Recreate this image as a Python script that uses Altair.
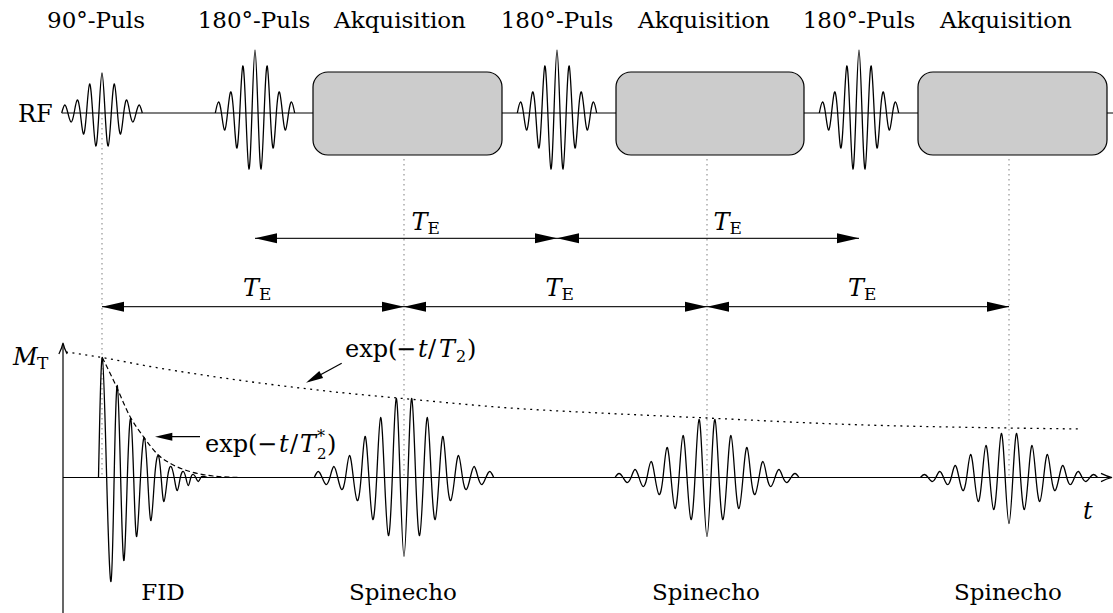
import altair as alt
import pandas as pd

W, H = 1113, 613
FONT = "DejaVu Serif"

# vertical bands (rows from the top of the drawing)
RF_ROW = 113
SIG_ROW = 477.5
TE_UPPER_ROW = 238.3
TE_LOWER_ROW = 306.7

# sequence timing (horizontal positions)
t_90 = 102
t_180 = [255, 557, 859]
t_echo = [404, 707, 1009]

# RF pulse lobes, left to right (positive = up)
rf90_amps = [8, -9, 13, -21, 29, -33, 40, -33, 29, -21, 13, -9, 8]
rf90_spacing = 6.2
rf180_amps = [11, -17, 21, -35, 47, -56, 63, -56, 47, -35, 21, -17, 11]
rf180_spacing = 6.1

# acquisition windows
acq_start = [313, 616, 918]
acq_end = [502, 804, 1107]
acq_top, acq_bottom = 72, 155

# free induction decay: lobe positions and heights
fid_t = [102.3, 111, 117.3, 124, 130.7, 136.7, 144.3, 151, 158.3, 164, 171,
         177.3, 183.3, 188.3, 193.3, 198.3, 203.3]
fid_amp = [120, -104, 92, -83, 59, -59, 40, -43, 22, -24, 11, -13, 6, -8, 3, -4, 1]
fid_start, fid_end = 98.5, 207

# spin echoes: lobe heights left to right
echo_amps = [
    [6, -7, 11, -12, 22, -23, 41, -42, 60, -58, 79, -79, 79, -58, 60, -42, 41, -23, 22, -12, 11, -7, 6],
    [4, -5, 8, -9, 16, -17, 30, -31, 42, -42, 58, -59, 58, -42, 42, -31, 30, -17, 16, -9, 8, -5, 4],
    [3, -4, 6, -7, 12, -13, 23, -24, 32, -32, 44, -46, 44, -32, 32, -24, 23, -13, 12, -7, 6, -4, 3],
]
echo_spacing = [7.8, 8.0, 7.7]

# decay envelopes
t2star_t = [102.3, 115, 130, 143.3, 158.3, 173.3, 190, 213, 240]
t2star_amp = [120, 94, 61, 41, 22.5, 12.5, 6, 1.5, 0]
t2_t = [66, 102, 150, 220, 340, 403, 517, 600, 707, 850, 1009, 1082]
t2_amp = [125.5, 120, 111, 100, 85, 79, 69, 64.5, 59.5, 53, 49.5, 48.5]

top_labels = ["90°-Puls", "180°-Puls", "Akquisition", "180°-Puls", "Akquisition", "180°-Puls", "Akquisition"]
top_label_x = [96, 254, 400, 557, 704, 859, 1006]
bottom_labels = ["FID", "Spinecho", "Spinecho", "Spinecho"]
bottom_label_x = [163, 403, 706, 1008]


def centred(center, spacing, n):
    return [center + (i - (n - 1) / 2) * spacing for i in range(n)]


def wave_rows(name, xs, amps, base_row, start=None, end=None):
    first = start if start is not None else xs[0] - (xs[1] - xs[0]) / 2
    last = end if end is not None else xs[-1] + (xs[-1] - xs[-2]) / 2
    pts = [(first, 0.0)]
    for i, (x, a) in enumerate(zip(xs, amps)):
        if i:
            pts.append(((xs[i - 1] + x) / 2, 0.0))
        pts.append((x, a))
    pts.append((last, 0.0))
    return [{"series": name, "order": k, "x": x, "y": base_row - a}
            for k, (x, a) in enumerate(pts)]


# ---- waveforms ----
waves = []
waves += wave_rows("rf90", centred(t_90, rf90_spacing, len(rf90_amps)), rf90_amps, RF_ROW)
for i, c in enumerate(t_180):
    waves += wave_rows(f"rf180_{i}", centred(c, rf180_spacing, len(rf180_amps)), rf180_amps, RF_ROW)
waves += wave_rows("fid", fid_t, fid_amp, SIG_ROW, fid_start, fid_end)
for i, c in enumerate(t_echo):
    waves += wave_rows(f"echo_{i}", centred(c, echo_spacing[i], len(echo_amps[i])), echo_amps[i], SIG_ROW)
waves_df = pd.DataFrame(waves)

env_star_df = pd.DataFrame({"x": t2star_t, "y": [SIG_ROW - a for a in t2star_amp]})
env_t2_df = pd.DataFrame({"x": t2_t, "y": [SIG_ROW - a for a in t2_amp]})

# ---- straight lines ----
solid_lines = pd.DataFrame([
    {"x": rf90_spacing * -6.5 + t_90, "x2": W, "y": RF_ROW, "y2": RF_ROW},   # RF baseline
    {"x": 63, "x2": 1111, "y": SIG_ROW, "y2": SIG_ROW},                     # time axis
    {"x": 63, "x2": 63, "y": H, "y2": 344},                                 # M_T axis
    {"x": 341.7, "x2": 309, "y": 363.3, "y2": 381},                         # T2 pointer
    {"x": 200, "x2": 165, "y": 436.7, "y2": 436.7},                         # T2* pointer
])

te_spans = [(t_180[0], t_180[1], TE_UPPER_ROW), (t_180[1], t_180[2], TE_UPPER_ROW),
            (t_90, t_echo[0], TE_LOWER_ROW), (t_echo[0], t_echo[1], TE_LOWER_ROW),
            (t_echo[1], t_echo[2], TE_LOWER_ROW)]
te_lines = pd.DataFrame([{"x": a, "x2": b, "y": r, "y2": r} for a, b, r in te_spans])
te_heads = pd.DataFrame(
    [{"x": a, "y": r, "angle": 180} for a, b, r in te_spans]
    + [{"x": b, "y": r, "angle": 0} for a, b, r in te_spans])

guides = pd.DataFrame(
    [{"x": t_90, "x2": t_90, "y": RF_ROW, "y2": SIG_ROW}]
    + [{"x": e, "x2": e, "y": acq_bottom + 4, "y2": SIG_ROW} for e in t_echo])

boxes = pd.DataFrame({"x": acq_start, "x2": acq_end,
                      "y": [acq_top] * 3, "y2": [acq_bottom] * 3})

pointer_heads = pd.DataFrame([{"x": 306, "y": 382.7, "angle": 151.5},
                              {"x": 155, "y": 436.7, "angle": 180}])
axis_heads = pd.DataFrame([{"x": 1112, "y": SIG_ROW, "angle": 0},
                           {"x": 63, "y": 343, "angle": 270}])

# ---- text ----
centre_text = pd.DataFrame(
    [{"text": s, "x": x, "y": 28, "fs": 23} for s, x in zip(top_labels, top_label_x)]
    + [{"text": s, "x": x, "y": 600, "fs": 23} for s, x in zip(bottom_labels, bottom_label_x)])

roman_left = [
    {"text": "RF", "x": 18, "y": 122, "fs": 24},
    {"text": "T", "x": 37, "y": 369, "fs": 17},
    # exp(-t/T2)
    {"text": "exp(", "x": 345, "y": 357, "fs": 24},
    {"text": "−", "x": 396, "y": 357, "fs": 24},
    {"text": "/", "x": 428, "y": 357, "fs": 24},
    {"text": "2", "x": 456, "y": 362, "fs": 16},
    {"text": ")", "x": 467, "y": 357, "fs": 24},
    # exp(-t/T2*)
    {"text": "exp(", "x": 205, "y": 452, "fs": 24},
    {"text": "−", "x": 257, "y": 452, "fs": 24},
    {"text": "/", "x": 290, "y": 452, "fs": 24},
    {"text": "2", "x": 317, "y": 459, "fs": 15},
    {"text": ")", "x": 327, "y": 452, "fs": 24},
]
star_text = pd.DataFrame([{"text": "*", "x": 317, "y": 442, "fs": 16}])
italic_left = [
    {"text": "M", "x": 13, "y": 365, "fs": 24},
    {"text": "t", "x": 1083, "y": 519, "fs": 24},
    {"text": "t", "x": 418, "y": 357, "fs": 24},
    {"text": "T", "x": 439, "y": 357, "fs": 24},
    {"text": "t", "x": 279, "y": 452, "fs": 24},
    {"text": "T", "x": 300, "y": 452, "fs": 24},
]
for a, b, r in te_spans:
    mid = (a + b) / 2
    left = mid + 5.5 if r == TE_UPPER_ROW else mid - 10
    base = r - 8 if r == TE_UPPER_ROW else r - 10.7
    italic_left.append({"text": "T", "x": left, "y": base, "fs": 24})
    roman_left.append({"text": "E", "x": left + 16, "y": base + 4, "fs": 17})
roman_left = pd.DataFrame(roman_left)
italic_left = pd.DataFrame(italic_left)

# ---- encodings ----
X = alt.X("x:Q", scale=alt.Scale(domain=[0, W], nice=False, zero=False), axis=None)
Y = alt.Y("y:Q", scale=alt.Scale(domain=[0, H], nice=False, zero=False, reverse=True), axis=None)
X2 = alt.X2("x2:Q")
Y2 = alt.Y2("y2:Q")

HEAD_FILLED = "M0,0 L-2,-0.46 L-2,0.46 Z"
HEAD_OPEN = "M-2,-0.75 Q-0.9,-0.2 0,0 Q-0.9,0.2 -2,0.75"


def text_layer(df, **kw):
    return (alt.Chart(df).mark_text(font=FONT, baseline="alphabetic", color="black", **kw)
            .encode(x=X, y=Y, text="text:N", size=alt.Size("fs:Q", scale=None)))


layers = [
    alt.Chart(guides).mark_rule(color="#8a8a8a", strokeWidth=1.1, strokeDash=[1.5, 3.5])
    .encode(x=X, x2=X2, y=Y, y2=Y2),
    alt.Chart(solid_lines).mark_rule(color="black", strokeWidth=1.2)
    .encode(x=X, x2=X2, y=Y, y2=Y2),
    alt.Chart(boxes).mark_rect(cornerRadius=15, fill="#cccccc", stroke="black", strokeWidth=1.2)
    .encode(x=X, x2=X2, y=Y, y2=Y2),
    alt.Chart(te_lines).mark_rule(color="#222222", strokeWidth=1.3)
    .encode(x=X, x2=X2, y=Y, y2=Y2),
    alt.Chart(te_heads).mark_point(shape=HEAD_FILLED, filled=True, size=484, color="black",
                                   opacity=1, strokeWidth=0)
    .encode(x=X, y=Y, angle=alt.Angle("angle:Q", scale=None)),
    alt.Chart(pointer_heads).mark_point(shape=HEAD_FILLED, filled=True, size=300, color="black",
                                        opacity=1, strokeWidth=0)
    .encode(x=X, y=Y, angle=alt.Angle("angle:Q", scale=None)),
    alt.Chart(axis_heads).mark_point(shape=HEAD_OPEN, filled=False, size=121, color="black",
                                     opacity=1, strokeWidth=1.2)
    .encode(x=X, y=Y, angle=alt.Angle("angle:Q", scale=None)),
    alt.Chart(env_t2_df).mark_line(color="black", strokeWidth=1.3, strokeDash=[2, 4.5],
                                   interpolate="monotone")
    .encode(x=X, y=Y),
    alt.Chart(env_star_df).mark_line(color="black", strokeWidth=1.2, strokeDash=[5, 3],
                                     interpolate="monotone")
    .encode(x=X, y=Y),
    alt.Chart(waves_df).mark_line(color="black", strokeWidth=1.3, interpolate="natural")
    .encode(x=X, y=Y, detail="series:N", order="order:Q"),
    text_layer(centre_text, align="center"),
    text_layer(roman_left, align="left"),
    text_layer(star_text, align="left"),
    text_layer(italic_left, align="left", fontStyle="italic"),
]

chart = (
    alt.layer(*layers)
    .properties(width=W, height=H, padding=0, autosize="none", background="white")
    .configure_view(stroke=None)
)

chart.save("out.html", embed_options={"renderer": "svg", "actions": False})
